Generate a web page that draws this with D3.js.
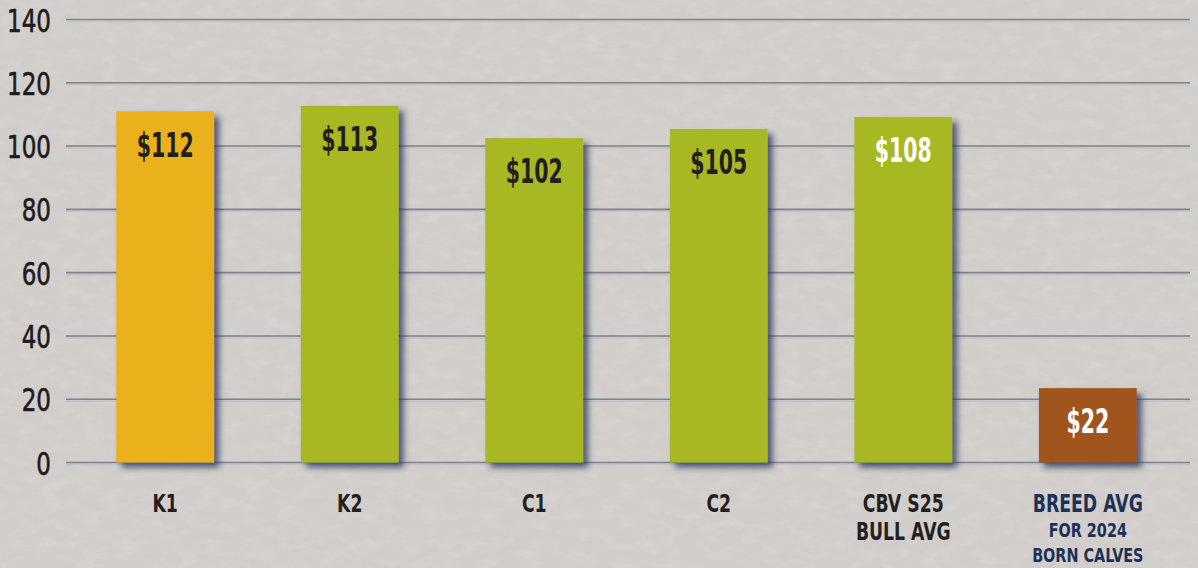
<!DOCTYPE html>
<html>
<head>
<meta charset="utf-8">
<script src="https://cdn.jsdelivr.net/npm/d3@7"></script>
<style>
  html, body { margin: 0; padding: 0; background: #d3cfcc; overflow: hidden; }
  text { font-family: "DejaVu Sans Condensed", "DejaVu Sans", sans-serif; }
</style>
</head>
<body>
<div id="chart"></div>
<script>
const categories = ["K1", "K2", "C1", "C2", "CBV S25", "BREED AVG"];
const catLines = [["K1"], ["K2"], ["C1"], ["C2"], ["CBV S25", "BULL AVG"], ["BREED AVG", "FOR 2024", "BORN CALVES"]];
const values = [111, 112.7, 102.5, 105.4, 109.2, 23.5];
const valueLabels = ["$112", "$113", "$102", "$105", "$108", "$22"];
const yTicks = [0, 20, 40, 60, 80, 100, 120, 140];

const barColors = ["#ebb11c", "#a8b823", "#a8b823", "#a8b823", "#a8b823", "#a0551f"];
const labelColors = ["#231f20", "#231f20", "#231f20", "#231f20", "#ffffff", "#ffffff"];

const width = 1198, height = 568;

const svg = d3.select("#chart")
  .append("svg")
  .attr("width", width)
  .attr("height", height);

const defs = svg.append("defs");

// grass / paper texture
const tex = defs.append("filter").attr("id", "tex").attr("x", 0).attr("y", 0).attr("width", "100%").attr("height", "100%");
tex.append("feTurbulence").attr("type", "fractalNoise").attr("baseFrequency", "0.05 0.1").attr("numOctaves", 4).attr("seed", 7);
tex.append("feColorMatrix").attr("type", "matrix")
  .attr("values", "0 0 0 0 1  0 0 0 0 1  0 0 0 0 1  0.6 0 0 0 -0.25");

const shadow = defs.append("filter").attr("id", "shadow").attr("x", "-20%").attr("y", "-20%").attr("width", "150%").attr("height", "150%");
shadow.append("feDropShadow").attr("dx", 5).attr("dy", 5).attr("stdDeviation", 3)
  .attr("flood-color", "#22305a").attr("flood-opacity", 0.75);

// Background
svg.append("rect").attr("width", width).attr("height", height).attr("fill", "#d1cdca");
svg.append("rect").attr("width", width).attr("height", height).attr("filter", "url(#tex)").attr("opacity", 0.45);

const x = d3.scaleBand()
  .domain(categories)
  .range([72, 1181])
  .paddingInner(0.47)
  .paddingOuter(0.24);

const y = d3.scaleLinear()
  .domain([0, 140])
  .range([462.5, 19.5]);

// Gridlines
const grid = svg.append("g");
grid.selectAll("line.hi")
  .data(yTicks)
  .join("line")
  .attr("class", "hi")
  .attr("x1", 66).attr("x2", 1190)
  .attr("y1", d => y(d) + 2).attr("y2", d => y(d) + 2)
  .attr("stroke", "#bfc3ca").attr("stroke-width", 1.5);
grid.selectAll("line.main")
  .data(yTicks)
  .join("line")
  .attr("class", "main")
  .attr("x1", 66).attr("x2", 1190)
  .attr("y1", d => y(d)).attr("y2", d => y(d))
  .attr("stroke", "#7d8189").attr("stroke-width", 1.6);

// Y axis labels
const yAxis = svg.append("g")
  .attr("transform", "translate(51,0)")
  .call(d3.axisLeft(y).tickValues(yTicks).tickSize(0).tickPadding(0));
yAxis.select(".domain").remove();
yAxis.selectAll("text")
  .attr("font-family", "DejaVu Sans Condensed, DejaVu Sans, sans-serif")
  .attr("font-size", 32)
  .attr("fill", "#1f1b1c")
  .attr("stroke", "#1f1b1c")
  .attr("stroke-width", 0.6)
  .attr("dy", "0.36em");

// Bars
svg.append("g")
  .selectAll("rect")
  .data(values)
  .join("rect")
  .attr("x", (d, i) => x(categories[i]))
  .attr("width", x.bandwidth())
  .attr("y", d => y(d))
  .attr("height", d => y(0) - y(d))
  .attr("fill", (d, i) => barColors[i])
  .attr("filter", "url(#shadow)");

// Value labels
const vals = svg.append("g")
  .selectAll("text")
  .data(valueLabels)
  .join("text")
  .attr("x", (d, i) => x(categories[i]) + x.bandwidth() / 2)
  .attr("y", (d, i) => y(values[i]) + 33)
  .attr("dy", "0.36em")
  .attr("text-anchor", "middle")
  .attr("font-size", 34)
  .attr("font-weight", "bold")
  .attr("fill", (d, i) => labelColors[i])
  .text(d => d);

// Category labels
const cat = svg.append("g")
  .selectAll("text")
  .data(catLines)
  .join("text")
  .attr("text-anchor", "middle")
  .attr("fill", (d, i) => i === 5 ? "#1c3158" : "#231f20");
cat.each(function (lines, i) {
  const cx = x(categories[i]) + x.bandwidth() / 2;
  const small = (j) => i === 5 && j > 0;
  d3.select(this).selectAll("tspan")
    .data(lines)
    .join("tspan")
    .attr("x", cx)
    .attr("y", (d, j) => i === 5 ? 512 + j * 25 : 512 + j * 28)
    .attr("font-size", (d, j) => small(j) ? 20 : 24)
    .attr("font-weight", (d, j) => small(j) ? 600 : "bold")
    .text(d => d);
});

// squeeze text to a condensed look
function squeeze(sel, k) {
  sel.each(function () {
    const L = this.getComputedTextLength();
    d3.select(this).attr("textLength", L * k).attr("lengthAdjust", "spacingAndGlyphs");
  });
}
squeeze(yAxis.selectAll("text"), 0.8);
squeeze(vals, 0.67);
squeeze(cat.selectAll("tspan"), 0.8);
</script>
</body>
</html>
